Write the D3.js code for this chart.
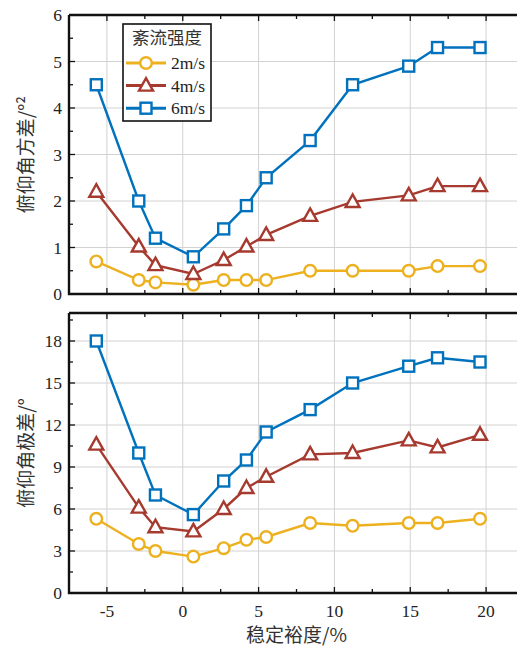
<!DOCTYPE html>
<html>
<head>
<meta charset="utf-8">
<script src="https://cdn.jsdelivr.net/npm/d3@7"></script>
<style>
  body { margin: 0; background: #fff; }
  svg { display: block; }
  .num { font-family: "Liberation Serif", "Times New Roman", serif; font-size: 17.5px; fill: #222; }
  .cjk { font-family: "Noto Sans CJK SC", sans-serif; font-size: 19px; fill: #333; }
</style>
</head>
<body>
<svg id="chart" width="517" height="646"></svg>
<script>
// stability margin (%)
const margin = [-5.7, -2.9, -1.8, 0.7, 2.7, 4.2, 5.5, 8.4, 11.2, 14.9, 16.8, 19.6];
const seriesNames = ["2m/s", "4m/s", "6m/s"];
const seriesColors = ["#EDB120", "#A63A2F", "#0072BD"];
const seriesShapes = ["circle", "triangle", "square"];

// pitch angle variance
const variance2 = [0.7, 0.3, 0.25, 0.2, 0.3, 0.3, 0.3, 0.5, 0.5, 0.5, 0.6, 0.6];
const variance4 = [2.2, 1.02, 0.62, 0.43, 0.73, 1.02, 1.27, 1.68, 1.98, 2.12, 2.32, 2.32];
const variance6 = [4.5, 2.0, 1.2, 0.8, 1.4, 1.9, 2.5, 3.3, 4.5, 4.9, 5.3, 5.3];

// pitch angle range
const range2 = [5.3, 3.5, 3.0, 2.6, 3.2, 3.8, 4.0, 5.0, 4.8, 5.0, 5.0, 5.3];
const range4 = [10.6, 6.1, 4.7, 4.4, 6.0, 7.5, 8.3, 9.9, 10.0, 10.9, 10.4, 11.3];
const range6 = [18.0, 10.0, 7.0, 5.6, 8.0, 9.5, 11.5, 13.1, 15.0, 16.2, 16.8, 16.5];

const xTicks = [-5, 0, 5, 10, 15, 20];
const varTicks = [0, 1, 2, 3, 4, 5, 6];
const rangeTicks = [0, 3, 6, 9, 12, 15, 18];

const svg = d3.select("#chart");
const left = 69, right = 524;

const x = d3.scaleLinear().domain([-7.5, 22.5]).range([left, right]);

function marker(g, shape, color) {
    if (shape === "circle") {
        g.append("circle").attr("r", 5.8);
    } else if (shape === "square") {
        g.append("rect").attr("x", -5.5).attr("y", -5.5).attr("width", 11).attr("height", 11);
    } else {
        g.append("path").attr("d", "M0,-7.5L7,5L-7,5Z");
    }
    g.selectAll("*")
        .attr("fill", "#fff")
        .attr("stroke", color)
        .attr("stroke-width", 2.4);
}

function panel(top, bottom, domain, ticks, minorStep, series, title) {
    const y = d3.scaleLinear().domain(domain).range([bottom, top]);
    const g = svg.append("g");

    // grid
    g.selectAll(".gx").data(xTicks).enter().append("line")
        .attr("x1", d => x(d)).attr("x2", d => x(d))
        .attr("y1", top).attr("y2", bottom)
        .attr("stroke", "#d2d2d2").attr("stroke-width", 1);
    g.selectAll(".gy").data(ticks.slice(1)).enter().append("line")
        .attr("x1", left).attr("x2", right)
        .attr("y1", d => y(d)).attr("y2", d => y(d))
        .attr("stroke", "#d2d2d2").attr("stroke-width", 1);

    // ticks inward
    const xMinor = d3.range(-7.5, 22.6, 2.5).filter(v => !xTicks.includes(v));
    const yMinor = d3.range(domain[0] + minorStep, domain[1], minorStep * 2);
    const tickG = g.append("g").attr("stroke", "#111").attr("stroke-width", 1.3);
    xTicks.concat(xMinor).forEach(v => {
        const len = xTicks.includes(v) ? 6 : 4;
        tickG.append("line").attr("x1", x(v)).attr("x2", x(v)).attr("y1", bottom).attr("y2", bottom - len);
        tickG.append("line").attr("x1", x(v)).attr("x2", x(v)).attr("y1", top).attr("y2", top + len);
    });
    ticks.concat(yMinor).forEach(v => {
        const len = ticks.includes(v) ? 6 : 4;
        tickG.append("line").attr("x1", left).attr("x2", left + len).attr("y1", y(v)).attr("y2", y(v));
    });

    // y labels
    g.selectAll(".yl").data(ticks).enter().append("text")
        .attr("class", "num")
        .attr("x", left - 7).attr("y", d => y(d) + 6)
        .attr("text-anchor", "end")
        .text(d => d);

    // lines + markers
    series.forEach((vals, i) => {
        const pts = margin.map((m, j) => [m, vals[j]]);
        g.append("path")
            .attr("d", d3.line().x(d => x(d[0])).y(d => y(d[1]))(pts))
            .attr("fill", "none")
            .attr("stroke", seriesColors[i])
            .attr("stroke-width", 2.4);
        pts.forEach(p => {
            const mg = g.append("g").attr("transform", `translate(${x(p[0])},${y(p[1])})`);
            marker(mg, seriesShapes[i], seriesColors[i]);
        });
    });

    // frame
    g.append("path")
        .attr("d", `M${left},${top}H${right + 5}M${left},${top}V${bottom}H${right + 5}`)
        .attr("fill", "none").attr("stroke", "#111").attr("stroke-width", 2.4);

    // title
    g.append("text")
        .attr("class", "cjk")
        .attr("transform", `translate(33,${(top + bottom) / 2}) rotate(-90)`)
        .attr("text-anchor", "middle")
        .text(title);

    return y;
}

panel(15, 294, [0, 6], varTicks, 0.5, [variance2, variance4, variance6], "俯仰角方差/°²");
panel(313, 593, [0, 20], rangeTicks, 1.5, [range2, range4, range6], "俯仰角极差/°");

// x tick labels
svg.selectAll(".xl").data(xTicks).enter().append("text")
    .attr("class", "num")
    .attr("x", d => x(d)).attr("y", 617)
    .attr("text-anchor", "middle")
    .text(d => d);

svg.append("text")
    .attr("class", "cjk")
    .attr("x", (left + right) / 2).attr("y", 642)
    .attr("text-anchor", "middle")
    .text("稳定裕度/%");

// legend
const lg = svg.append("g");
lg.append("rect")
    .attr("x", 123).attr("y", 24).attr("width", 88).attr("height", 97)
    .attr("fill", "#fff").attr("stroke", "#111").attr("stroke-width", 1.6);
lg.append("text")
    .attr("class", "cjk")
    .style("font-size", "17.5px")
    .attr("x", 167).attr("y", 44)
    .attr("text-anchor", "middle")
    .text("紊流强度");
seriesNames.forEach((name, i) => {
    const cy = 63 + i * 22.6;
    lg.append("line")
        .attr("x1", 126).attr("x2", 166).attr("y1", cy).attr("y2", cy)
        .attr("stroke", seriesColors[i]).attr("stroke-width", 3);
    const mg = lg.append("g").attr("transform", `translate(146,${cy})`);
    marker(mg, seriesShapes[i], seriesColors[i]);
    lg.append("text")
        .attr("class", "num")
        .attr("x", 171).attr("y", cy + 6)
        .text(name);
});
</script>
</body>
</html>
